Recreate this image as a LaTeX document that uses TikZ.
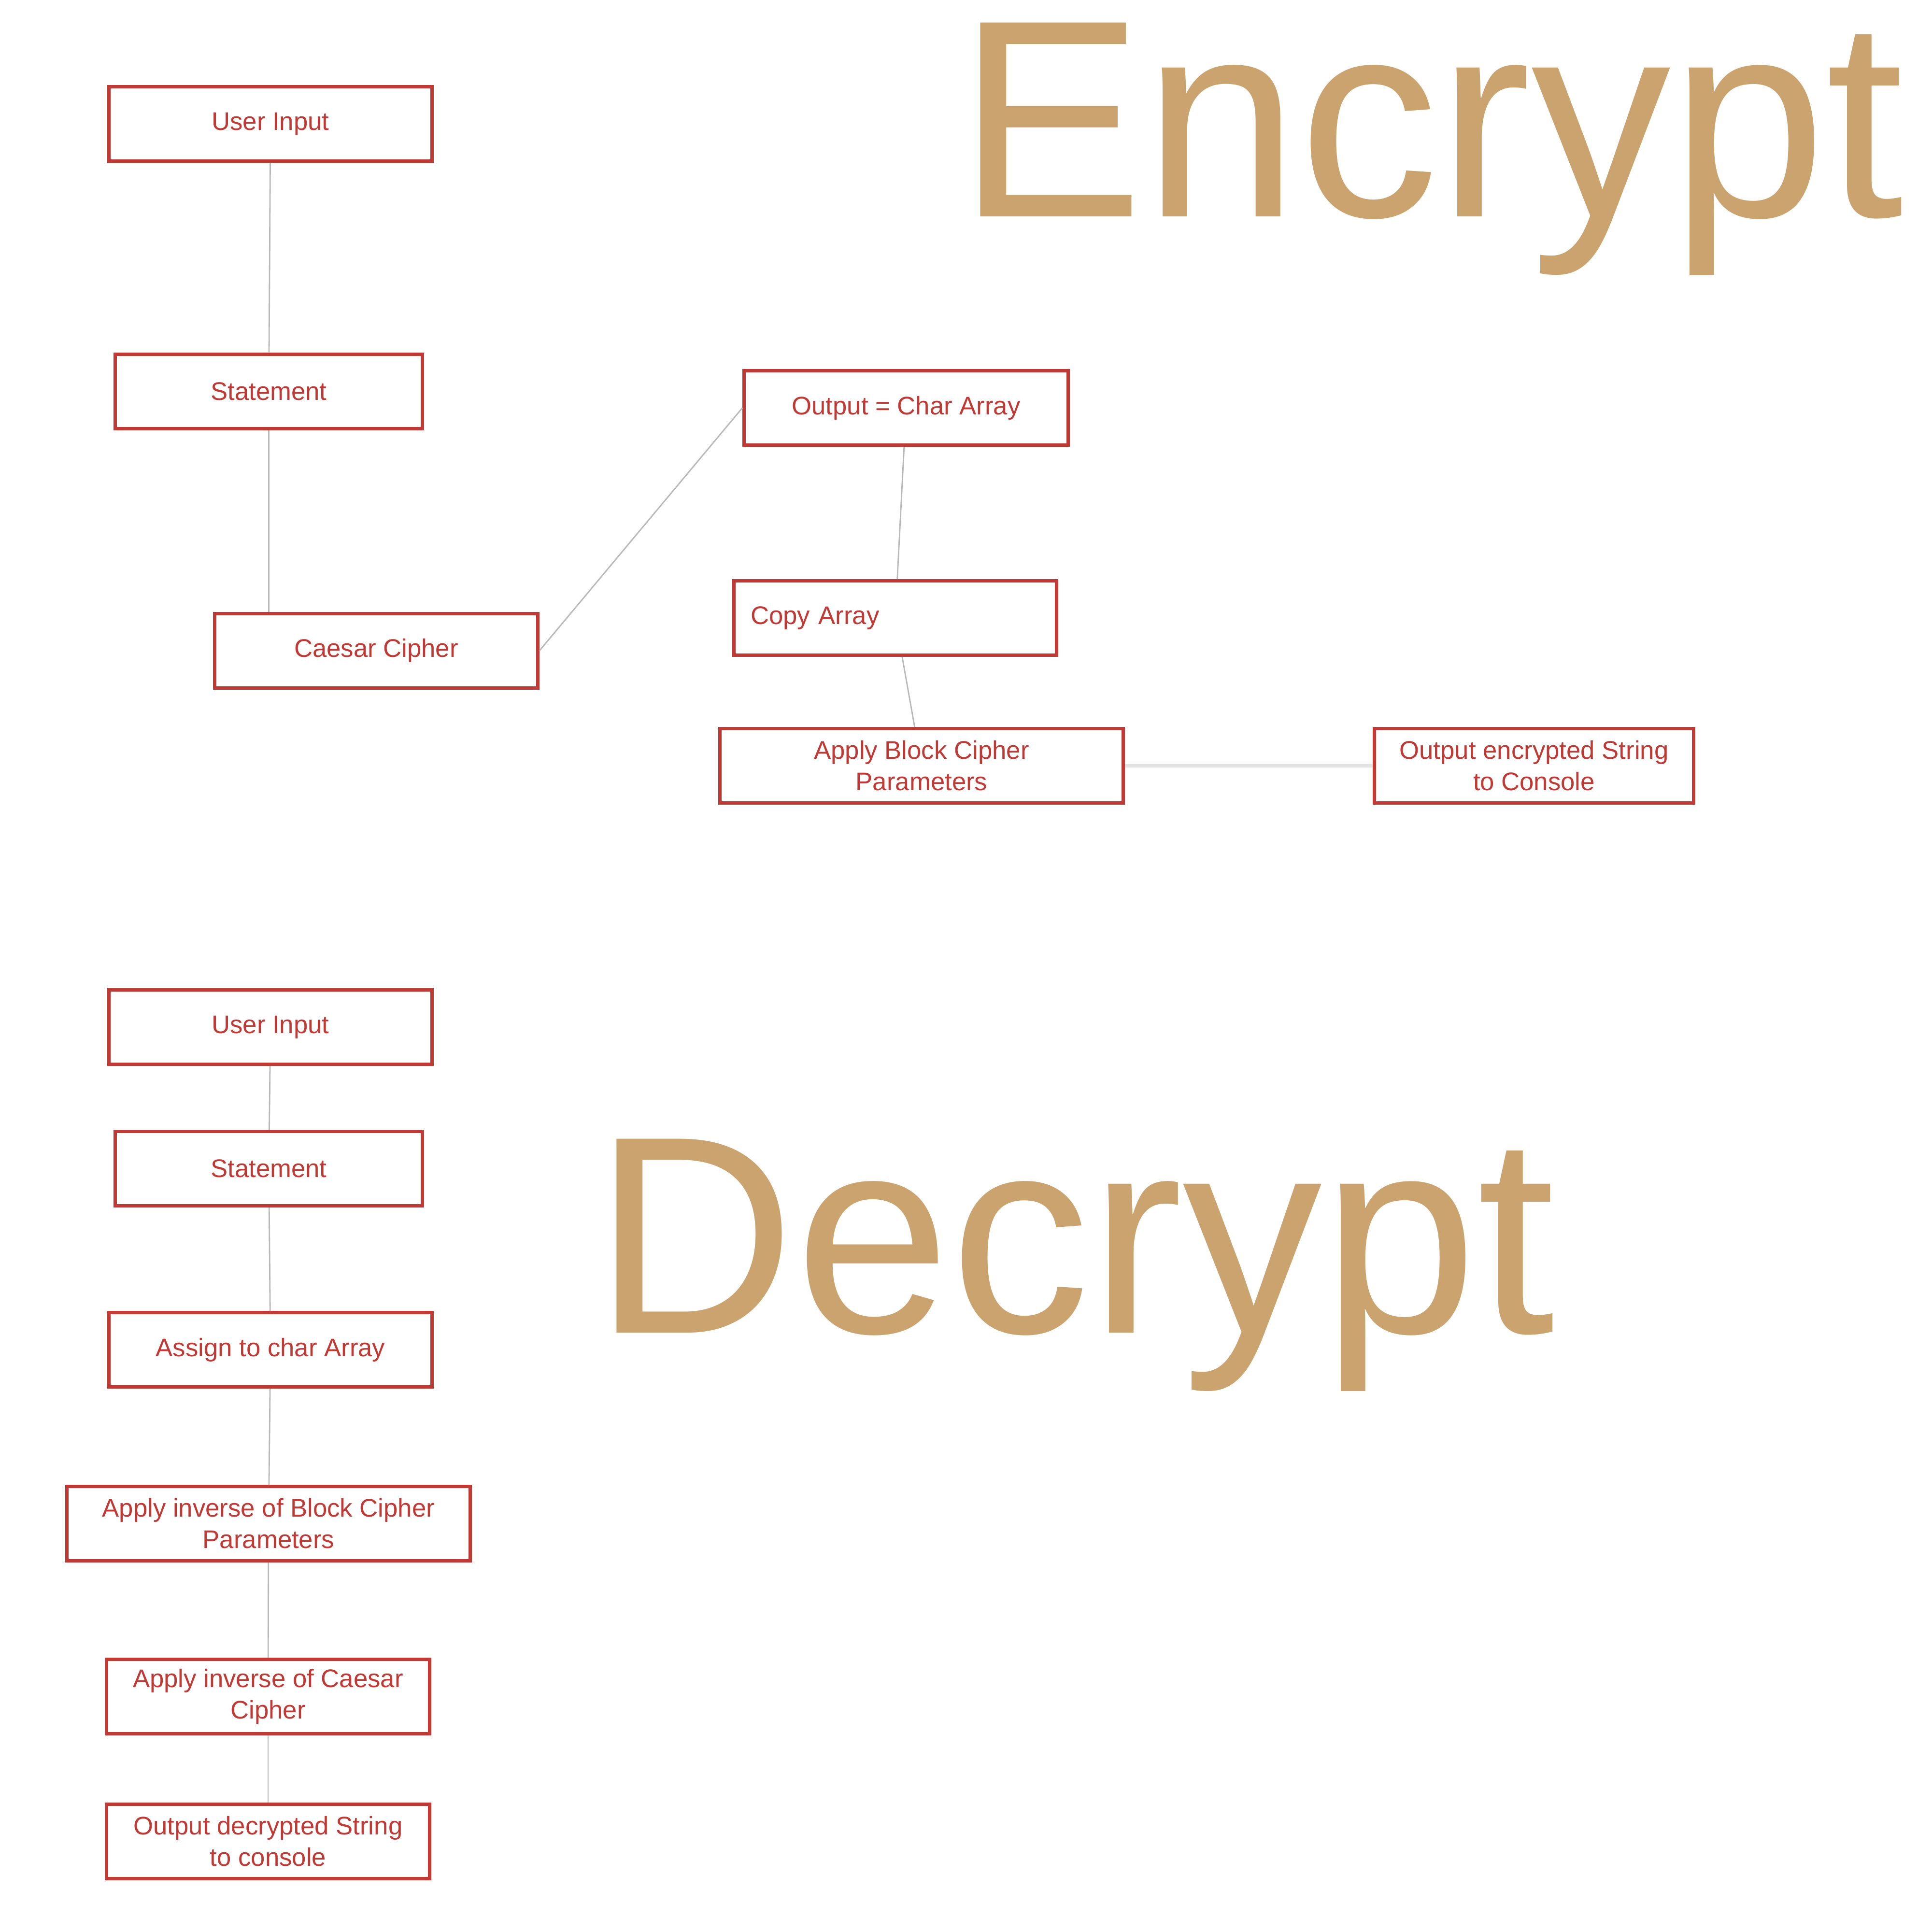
\documentclass[tikz,border=0pt]{standalone}
\usepackage{fontspec}
\setmainfont{Liberation Sans}
\definecolor{boxred}{RGB}{192,57,52}
\definecolor{titletan}{RGB}{203,163,110}
\definecolor{linegray}{RGB}{185,185,185}
\definecolor{palegray}{RGB}{228,228,228}
\tikzset{
  box/.style={draw=boxred, line width=2pt, text=boxred, inner sep=0pt,
    minimum height=1.54cm, align=center, font=\fontsize{15}{18.5}\selectfont},
  link/.style={draw=linegray, line width=0.8pt},
  widelink/.style={draw=palegray, line width=2.2pt},
  title/.style={text=titletan, inner sep=0pt, anchor=base west, xscale=0.99,
    font=\fontsize{166}{166}\selectfont}
}
\begin{document}
\begin{tikzpicture}
    \useasboundingbox (0,0) rectangle (40,-40);
    % encrypt side
    \node [title] (enctitle) at (19.82,-4.48) {Encrypt};
    \node [box, minimum width=6.69cm] (encinput) at (5.60,-2.565) {User Input};
    \node [box, minimum width=6.36cm] (encstmt) at (5.565,-8.10) {Statement};
    \node [box, minimum width=6.69cm] (caesar) at (7.79,-13.47) {Caesar Cipher};
    \node [box, minimum width=6.71cm] (chararr) at (18.76,-8.445) {Output = Char Array};
    \node [box, inner xsep=0.345cm, text width=5.99cm, align=left] (copyarr)
      at (18.535,-12.795) {Copy Array};
    \node [box, minimum width=8.35cm] (blockciph) at (19.08,-15.855) {Apply Block Cipher\\Parameters};
    \node [box, minimum width=6.61cm] (encout) at (31.76,-15.855) {Output encrypted String\\to Console};
    \draw [link] (encinput) -- (encstmt);
    \draw [link] (encstmt.south) -- (encstmt.south |- caesar.north);
    \draw [link] (caesar.east) -- (chararr.west);
    \draw [link] (chararr) -- (copyarr);
    \draw [link] (copyarr) -- (blockciph);
    \draw [widelink] (blockciph) -- (encout);
    % decrypt side
    \node [title] (dectitle) at (12.29,-27.59) {Decrypt};
    \node [box, minimum width=6.69cm] (decinput) at (5.60,-21.265) {User Input};
    \node [box, minimum width=6.36cm] (decstmt) at (5.565,-24.195) {Statement};
    \node [box, minimum width=6.69cm] (assign) at (5.60,-27.945) {Assign to char Array};
    \node [box, minimum width=8.35cm] (invblock) at (5.56,-31.545) {Apply inverse of Block Cipher\\Parameters};
    \node [box, minimum width=6.69cm] (invcaesar) at (5.55,-35.125) {Apply inverse of Caesar\\Cipher};
    \node [box, minimum width=6.69cm] (decout) at (5.55,-38.125) {Output decrypted String\\to console};
    \draw [link] (decinput) -- (decstmt);
    \draw [link] (decstmt) -- (assign);
    \draw [link] (assign) -- (invblock);
    \draw [link] (invblock) -- (invcaesar);
    \draw [link] (invcaesar) -- (decout);
\end{tikzpicture}
\end{document}
